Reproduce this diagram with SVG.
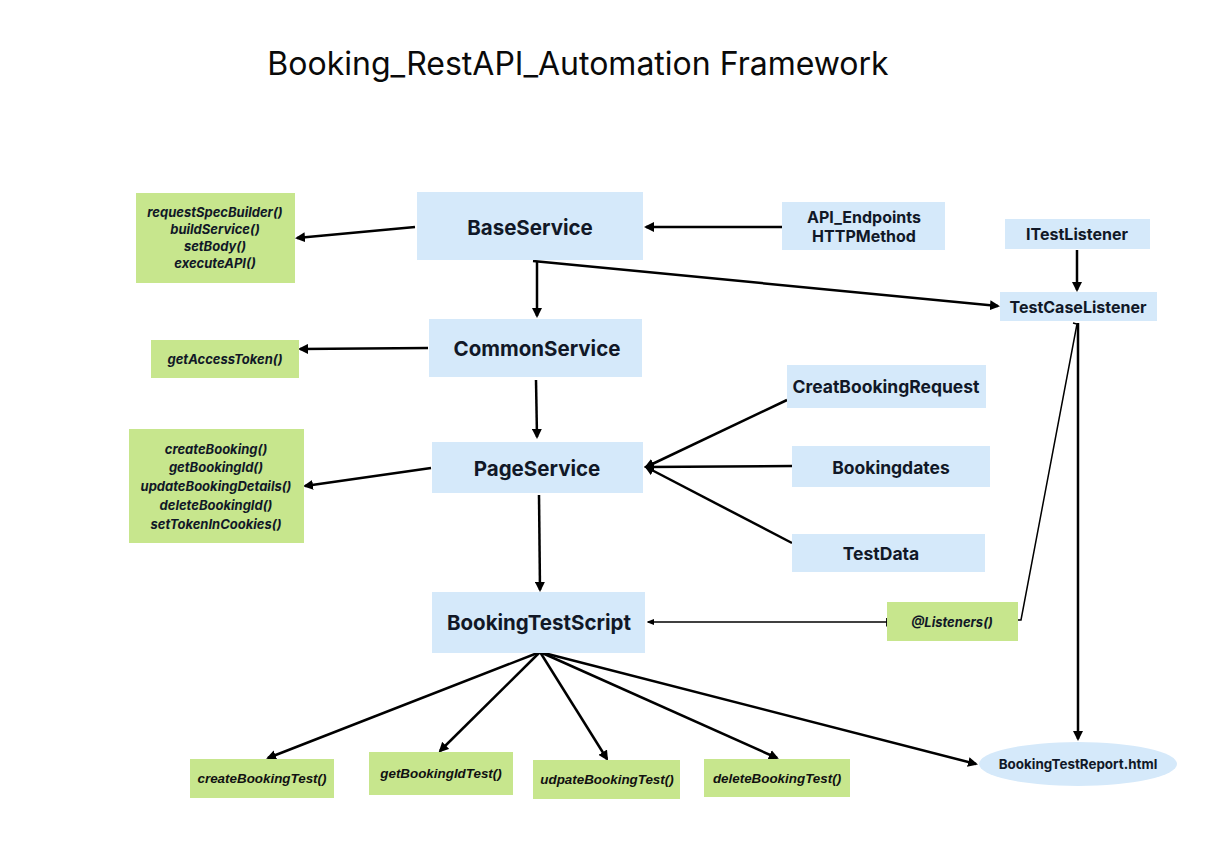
<svg xmlns="http://www.w3.org/2000/svg" width="1218" height="857" viewBox="0 0 1218 857">
<defs>
<style>
.blue{fill:#d5e9fa}
.green{fill:#c7e68d}
.t{font-family:Inter,"Liberation Sans",sans-serif;font-weight:bold;fill:#111827;text-anchor:middle;dominant-baseline:central}
.big{font-size:20.5px}
.mid{font-size:16px}
.mid2{font-size:17.5px}
.sm{font-size:13px;font-style:italic}
.bt{font-family:"Liberation Sans",Arial,sans-serif;font-size:13.4px;font-style:italic;font-weight:bold;fill:#111;text-anchor:middle;dominant-baseline:central}
.c{stroke:#000;stroke-width:2.5;fill:none;marker-end:url(#ah)}
.thin{stroke:#000;stroke-width:1.5;fill:none}
</style>
<marker id="ah" viewBox="0 0 10 10" refX="8" refY="5" markerWidth="4" markerHeight="4" orient="auto" markerUnits="strokeWidth">
<path d="M0,0 L10,5 L0,10 z" fill="#000"/>
</marker>
<marker id="ahs" viewBox="0 0 10 10" refX="8" refY="5" markerWidth="5" markerHeight="5" orient="auto" markerUnits="strokeWidth">
<path d="M0,1 L10,5 L0,9 z" fill="#000"/>
</marker>
<marker id="bar" viewBox="0 0 4 10" refX="2" refY="5" markerWidth="3" markerHeight="6" orient="auto" markerUnits="strokeWidth">
<path d="M2,0 L2,10" stroke="#000" stroke-width="2"/>
</marker>
</defs>
<rect width="1218" height="857" fill="#fff"/>
<text x="578" y="63" font-family="Inter,'Liberation Sans',sans-serif" font-size="32" fill="#0a0a0a" text-anchor="middle" dominant-baseline="central">Booking_RestAPI_Automation Framework</text>

<g id="connectors">
<line class="c" x1="415" y1="227" x2="297" y2="238"/>
<line class="c" x1="782" y1="227" x2="646" y2="227"/>
<line class="c" x1="537" y1="261" x2="537" y2="316"/>
<line class="c" x1="533" y1="261" x2="998" y2="306"/>
<line class="c" x1="1077" y1="250" x2="1077" y2="290"/>
<line class="c" x1="428" y1="348" x2="300" y2="349"/>
<line class="c" x1="536" y1="380" x2="537" y2="437"/>
<line class="c" x1="431" y1="468" x2="305" y2="486"/>
<line class="c" x1="787" y1="400" x2="646" y2="467"/>
<line class="c" x1="792" y1="466" x2="646" y2="467"/>
<line class="c" x1="792" y1="543" x2="646" y2="467"/>
<line class="c" x1="539" y1="495" x2="540" y2="590"/>
<line class="thin" x1="887" y1="622" x2="648" y2="622" marker-end="url(#ahs)" marker-start="url(#bar)"/>
<path class="thin" d="M1073,323 L1077,324 L1021,620 L1018,620"/>
<line class="c" x1="1078" y1="323" x2="1078" y2="739"/>
<line class="c" x1="540" y1="652" x2="268" y2="758"/>
<line class="c" x1="540" y1="652" x2="440" y2="751"/>
<line class="c" x1="540" y1="652" x2="607" y2="759"/>
<line class="c" x1="540" y1="652" x2="777" y2="758"/>
<line class="c" x1="540" y1="652" x2="976" y2="764"/>
</g>

<g id="BaseService"><rect class="blue" x="417" y="192" width="226" height="68"/><text class="t big" x="530" y="227">BaseService</text></g>
<g id="CommonService"><rect class="blue" x="429" y="319" width="213" height="58"/><text class="t big" x="537" y="348">CommonService</text></g>
<g id="PageService"><rect class="blue" x="432" y="442" width="211" height="51"/><text class="t big" x="537" y="468">PageService</text></g>
<g id="BookingTestScript"><rect class="blue" x="432" y="592" width="213" height="61"/><text class="t big" x="539" y="622">BookingTestScript</text></g>
<g id="API_Endpoints"><rect class="blue" x="782" y="202" width="163" height="48"/><text class="t mid" x="864" y="217">API_Endpoints</text><text class="t mid" x="864" y="236">HTTPMethod</text></g>
<g id="ITestListener"><rect class="blue" x="1005" y="219" width="145" height="30"/><text class="t mid" x="1077" y="234">ITestListener</text></g>
<g id="TestCaseListener"><rect class="blue" x="1000" y="292" width="157" height="29"/><text class="t mid" x="1078" y="307">TestCaseListener</text></g>
<g id="CreatBookingRequest"><rect class="blue" x="787" y="365" width="199" height="43"/><text class="t mid2" x="886" y="386">CreatBookingRequest</text></g>
<g id="Bookingdates"><rect class="blue" x="792" y="446" width="198" height="41"/><text class="t mid2" x="891" y="467">Bookingdates</text></g>
<g id="TestData"><rect class="blue" x="792" y="534" width="193" height="38"/><text class="t mid2" x="881" y="553">TestData</text></g>
<g id="Listeners"><rect class="green" x="887" y="602" width="131" height="39"/><text class="t sm" font-size="14" x="952" y="622">@Listeners()</text></g>
<g id="BookingTestReport"><ellipse class="blue" cx="1078" cy="764" rx="99" ry="22"/><text class="t" font-size="13.4" x="1078" y="764">BookingTestReport.html</text></g>

<g id="BaseServiceMethods"><rect class="green" x="136" y="193" width="159" height="90"/>
<text class="t sm" x="215" y="212">requestSpecBuilder()</text><text class="t sm" x="215" y="229">buildService()</text><text class="t sm" x="215" y="246">setBody()</text><text class="t sm" x="215" y="263">executeAPI()</text></g>
<g id="CommonServiceMethods"><rect class="green" x="151" y="340" width="148" height="38"/><text class="t sm" x="225" y="359">getAccessToken()</text></g>
<g id="PageServiceMethods"><rect class="green" x="129" y="429" width="175" height="114"/>
<text class="t sm" x="216" y="449">createBooking()</text><text class="t sm" x="216" y="467">getBookingId()</text><text class="t sm" x="216" y="486">updateBookingDetails()</text><text class="t sm" x="216" y="505">deleteBookingId()</text><text class="t sm" x="216" y="524">setTokenInCookies()</text></g>

<g id="createBookingTest"><rect class="green" x="190" y="759" width="144" height="39"/><text class="bt" x="262" y="778">createBookingTest()</text></g>
<g id="getBookingIdTest"><rect class="green" x="369" y="752" width="144" height="43"/><text class="bt" x="441" y="773">getBookingIdTest()</text></g>
<g id="udpateBookingTest"><rect class="green" x="533" y="760" width="147" height="39"/><text class="bt" x="607" y="779">udpateBookingTest()</text></g>
<g id="deleteBookingTest"><rect class="green" x="704" y="759" width="146" height="38"/><text class="bt" x="777" y="778">deleteBookingTest()</text></g>
</svg>
